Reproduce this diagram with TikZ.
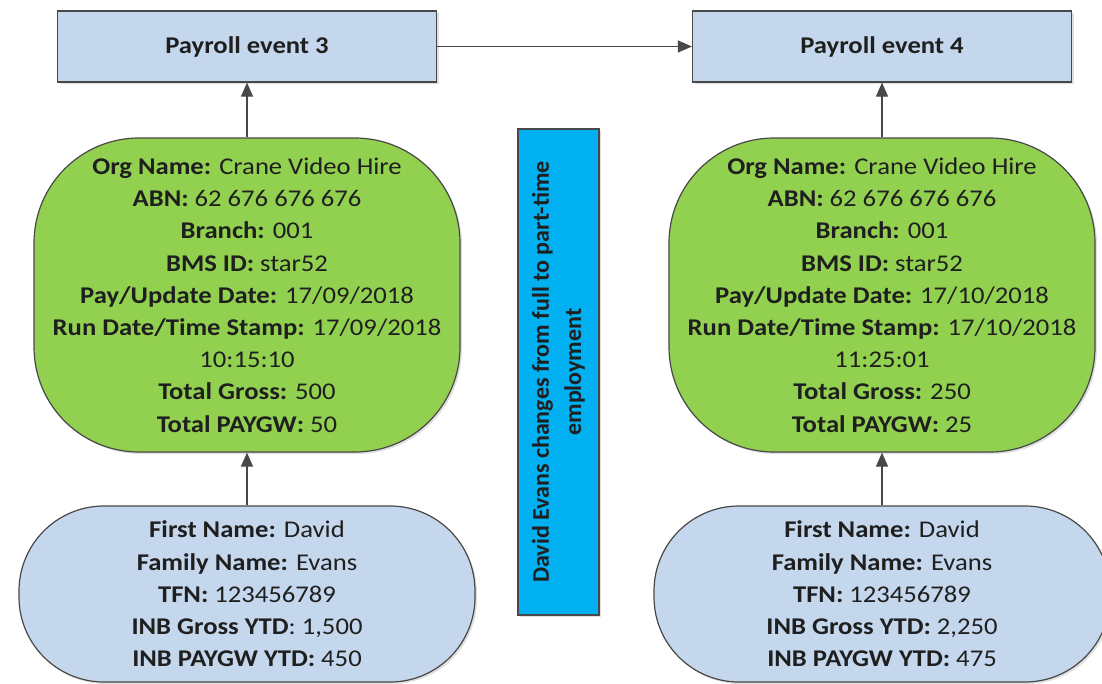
\documentclass[tikz,border=0pt]{standalone}
\usepackage{fontspec}
\setmainfont{Carlito}[FakeStretch=1.11]
\newfontfamily\notefont{Carlito}
\usetikzlibrary{arrows.meta,shadows}

\definecolor{boxblue}{RGB}{196,215,236}
\definecolor{orggreen}{RGB}{146,208,80}
\definecolor{notecyan}{RGB}{0,176,240}
\definecolor{edgegray}{RGB}{72,72,72}

\tikzset{
  basebox/.style={draw=edgegray, line width=1.2pt, text=black!88, align=center,
    drop shadow={shadow xshift=2pt, shadow yshift=-2pt, opacity=0.25},
    font=\fontsize{24}{32.2}\selectfont},
  eventbox/.style={basebox, fill=boxblue, minimum width=379pt, minimum height=71pt,
    font=\fontsize{24}{32.2}\selectfont\bfseries},
  orgbox/.style={basebox, fill=orggreen, minimum width=426pt, minimum height=314pt,
    rounded corners=105pt},
  empbox/.style={basebox, fill=boxblue, minimum width=456pt, minimum height=176pt,
    rounded corners=85pt},
  notebox/.style={basebox, fill=notecyan, minimum width=486pt, minimum height=81pt,
    font=\notefont\fontsize{24}{32.2}\selectfont\bfseries},
  flow/.style={draw=edgegray, line width=1.2pt, -{Triangle[length=14pt,width=12pt]}}
}

\begin{document}
\begin{tikzpicture}[x=1pt,y=-1pt]
  \useasboundingbox (0,0) rectangle (1102,683);

  % Payroll event 3
  \node[eventbox] (ev3) at (247,46.5) {Payroll event 3};
  \node[orgbox] (org3) at (247,295) {%
    \textbf{Org Name:} Crane Video Hire\\
    \textbf{ABN:} 62 676 676 676\\
    \textbf{Branch:} 001\\
    \textbf{BMS ID:} star52\\
    \textbf{Pay/Update Date:} 17/09/2018\\
    \textbf{Run Date/Time Stamp:} 17/09/2018\\
    10:15:10\\
    \textbf{Total Gross:} 500\\
    \textbf{Total PAYGW:} 50};
  \node[empbox] (emp3) at (247,594) {%
    \textbf{First Name:} David\\
    \textbf{Family Name:} Evans\\
    \textbf{TFN:} 123456789\\
    \textbf{INB Gross YTD}: 1,500\\
    \textbf{INB PAYGW YTD:} 450};

  % Payroll event 4
  \node[eventbox] (ev4) at (882,46.5) {Payroll event 4};
  \node[orgbox] (org4) at (882,295) {%
    \textbf{Org Name:} Crane Video Hire\\
    \textbf{ABN:} 62 676 676 676\\
    \textbf{Branch:} 001\\
    \textbf{BMS ID:} star52\\
    \textbf{Pay/Update Date:} 17/10/2018\\
    \textbf{Run Date/Time Stamp:} 17/10/2018\\
    11:25:01\\
    \textbf{Total Gross:} 250\\
    \textbf{Total PAYGW:} 25};
  \node[empbox] (emp4) at (882,594) {%
    \textbf{First Name:} David\\
    \textbf{Family Name:} Evans\\
    \textbf{TFN:} 123456789\\
    \textbf{INB Gross YTD:} 2,250\\
    \textbf{INB PAYGW YTD:} 475};

  % change between the two events
  \node[notebox, rotate=90] (change) at (558.5,372)
    {David Evans changes from full to part-time\\employment};

  \draw[flow] (ev3.east) -- (ev4.west);
  \draw[flow] (org3.north) -- (ev3.south);
  \draw[flow] (emp3.north) -- (org3.south);
  \draw[flow] (org4.north) -- (ev4.south);
  \draw[flow] (emp4.north) -- (org4.south);
\end{tikzpicture}
\end{document}
